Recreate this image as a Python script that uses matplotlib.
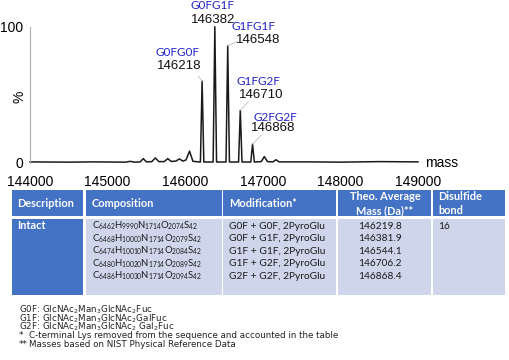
import matplotlib
matplotlib.use("Agg")
import matplotlib.pyplot as plt
from matplotlib.patches import Rectangle

# spectrum trace (mass, relative intensity %)
trace_mass = [144000, 144500, 144800, 145230, 145290, 145350, 145420, 145460, 145500,
              145570, 145615, 145660, 145730, 145775, 145820, 145880, 145925, 145970,
              146010, 146056, 146100, 146196, 146218, 146240, 146360, 146382, 146404,
              146526, 146548, 146570, 146688, 146710, 146732, 146845, 146868, 146891,
              146980, 147020, 147060, 147130, 147170, 147210, 147600, 148000, 148500,
              149000]
trace_int = [0.6, 0.4, 0.6, 0.4, 1.0, 0.4, 0.6, 3.0, 0.6,
             0.8, 3.5, 0.8, 0.8, 3.0, 0.9, 1.2, 2.8, 1.2,
             2.0, 8.5, 1.0, 0.5, 60, 0.5, 0.5, 100, 0.5,
             0.5, 86, 0.5, 0.5, 38.5, 0.5, 0.5, 13.6, 0.5,
             0.8, 4.5, 0.8, 0.6, 2.2, 0.6, 0.6, 0.4, 0.8,
             0.6]

peak_names = ["G0FG0F", "G0FG1F", "G1FG1F", "G1FG2F", "G2FG2F"]
peak_mass = [146218, 146382, 146548, 146710, 146868]
peak_height = [60, 100, 86, 38.5, 13.6]

# table
headers = ["Description", "Composition", "Modification*", "Theo. Average\nMass (Da)**", "Disulfide\nbond"]
n_C = [6462, 6468, 6474, 6480, 6486]
n_H = [9990, 10000, 10010, 10020, 10030]
n_N = [1714, 1714, 1714, 1714, 1714]
n_O = [2074, 2079, 2084, 2089, 2094]
n_S = [42, 42, 42, 42, 42]
modifications = ["G0F + G0F, 2PyroGlu", "G0F + G1F, 2PyroGlu", "G1F + G1F, 2PyroGlu",
                  "G1F + G2F, 2PyroGlu", "G2F + G2F, 2PyroGlu"]
theo_mass = [146219.8, 146381.9, 146544.1, 146706.2, 146868.4]
description = "Intact"
disulfide = "16"

footnotes = [
    ("", r"G0F: GlcNAc$\mathregular{_2}$Man$\mathregular{_3}$GlcNAc$\mathregular{_2}$Fuc"),
    ("", r"G1F: GlcNAc$\mathregular{_2}$Man$\mathregular{_3}$GlcNAc$\mathregular{_2}$GalFuc"),
    ("", r"G2F: GlcNAc$\mathregular{_2}$Man$\mathregular{_3}$GlcNAc$\mathregular{_2}$ Gal$\mathregular{_2}$Fuc"),
    ("*", "C-terminal Lys removed from the sequence and accounted in the table"),
    ("**", "Masses based on NIST Physical Reference Data"),
]

ARIAL = "Liberation Sans"
CALIBRI = "Lato"
NOTE_FONT = "DejaVu Sans"
BLUE_LABEL = "#2323c8"
HEAD_BLUE = "#4472c4"
CELL_LIGHT = "#cfd5ea"

W, H = 509, 360
fig = plt.figure(figsize=(W / 100, H / 100), dpi=100)

# ---- spectrum ----
ax = fig.add_axes([30 / W, 1 - 162.7 / H, 388 / W, 136 / H])
ax.plot(trace_mass, trace_int, color="#1a1a1a", lw=1.1, clip_on=False)
ax.set_xlim(144000, 149000)
ax.set_ylim(0, 100)
for s in ["top", "right", "bottom"]:
    ax.spines[s].set_visible(False)
ax.spines["left"].set_color("#b0b0b0")
ax.spines["left"].set_linewidth(0.8)
ax.set_xticks([144000, 145000, 146000, 147000, 148000, 149000])
ax.set_yticks([0, 100])
ax.tick_params(axis="x", length=0, pad=9, labelsize=10)
ax.tick_params(axis="y", length=0, pad=5, labelsize=10)
for lab in ax.get_xticklabels() + ax.get_yticklabels():
    lab.set_fontfamily(ARIAL)
ax.text(1.017, 0.0, "mass", transform=ax.transAxes, fontfamily=ARIAL, fontsize=10,
        ha="left", va="center")

px = 0.72  # points per pixel
num_off = [(-23, 15.4), (-1.5, 6.7), (30.3, 5.7), (21.4, 15.3), (20.4, 15.9)]
name_off = [(-24.5, 28.4), (-2.3, 21.0), (26.0, 19.7), (17.7, 29.3), (22.4, 26.9)]
lead_off = [(-4, 5), None, (9.4, 4.4), (8, 8.6), (9, 9.3)]
for i in range(len(peak_mass)):
    xy = (peak_mass[i], peak_height[i])
    dx, dy = num_off[i]
    ax.annotate(str(peak_mass[i]), xy=xy, xytext=(dx * px, dy * px), textcoords="offset points",
                ha="center", va="center", fontfamily=ARIAL, fontsize=9.5, color="#111111",
                annotation_clip=False)
    dx, dy = name_off[i]
    ax.annotate(peak_names[i], xy=xy, xytext=(dx * px, dy * px), textcoords="offset points",
                ha="center", va="center", fontfamily=CALIBRI, fontsize=8.5, color=BLUE_LABEL,
                annotation_clip=False)
    if lead_off[i] is not None:
        dx, dy = lead_off[i]
        ax.annotate("", xy=xy, xytext=(dx * px, dy * px), textcoords="offset points",
                    arrowprops=dict(arrowstyle="-", color="#c0c0c0", lw=0.6, shrinkA=0, shrinkB=0),
                    annotation_clip=False)

# ---- table (pixel coordinates overlay) ----
ov = fig.add_axes([0, 0, 1, 1], zorder=-1)
ov.set_xlim(0, W)
ov.set_ylim(H, 0)
ov.axis("off")

ov.text(20, 97, "%", rotation=90, fontfamily=ARIAL, fontsize=10, ha="center", va="center")

col_x0 = [11.7, 86.0, 223.3, 338.3, 432.7]
col_x1 = [83.3, 221.7, 336.0, 431.0, 505.0]
head_y0, head_y1 = 190.0, 215.5
body_y0, body_y1 = 219.0, 294.5

for j in range(5):
    ov.add_patch(Rectangle((col_x0[j], head_y0), col_x1[j] - col_x0[j], head_y1 - head_y0,
                           facecolor=HEAD_BLUE, edgecolor="none"))
    ov.add_patch(Rectangle((col_x0[j], body_y0), col_x1[j] - col_x0[j], body_y1 - body_y0,
                           facecolor=HEAD_BLUE if j == 0 else CELL_LIGHT, edgecolor="none"))

hfs = 7.9
head_kw = dict(color="white", fontweight="bold", fontfamily=CALIBRI, fontsize=hfs, va="baseline")
ov.text(17, 207.0, headers[0], ha="left", **head_kw)
ov.text(91.7, 207.0, headers[1], ha="left", **head_kw)
ov.text(229, 207.0, headers[2], ha="left", **head_kw)
l1, l2 = headers[3].split("\n")
ov.text(385, 200.3, l1, ha="center", **head_kw)
ov.text(385, 214.0, l2, ha="center", **head_kw)
l1, l2 = headers[4].split("\n")
ov.text(438, 200.3, l1, ha="left", **head_kw)
ov.text(438, 214.0, l2, ha="left", **head_kw)

bfs = 7.3
body_kw = dict(color="#1a1a1a", fontfamily=CALIBRI, fontsize=bfs, va="baseline")
row_base = 229.0
row_step = 12.4
ov.text(17, row_base, description, ha="left", **head_kw)
ov.text(438, row_base, disulfide, ha="left", **body_kw)
for i in range(len(n_C)):
    y = row_base + i * row_step
    comp = (r"C$\mathregular{_{%d}}$H$\mathregular{_{%d}}$N$\mathregular{_{%d}}$"
            r"O$\mathregular{_{%d}}$S$\mathregular{_{%d}}$" % (n_C[i], n_H[i], n_N[i], n_O[i], n_S[i]))
    ov.text(91.7, y, comp, ha="left", **dict(body_kw, fontsize=6.8))
    ov.text(229, y, modifications[i], ha="left", **body_kw)
    ov.text(380, y, f"{theo_mass[i]:.1f}", ha="center", **body_kw)

# ---- footnotes ----
ffs = 6.3
note_kw = dict(fontfamily=NOTE_FONT, fontsize=ffs, color="#222222", va="baseline", ha="left")
for i, (mark, txt) in enumerate(footnotes):
    y = 312.5 + i * 8.6
    if mark:
        ov.text(19, y, mark, **note_kw)
        ov.text(29.3, y, txt, **note_kw)
    else:
        ov.text(19, y, txt, **note_kw)

fig.savefig("out.png", dpi=100)
